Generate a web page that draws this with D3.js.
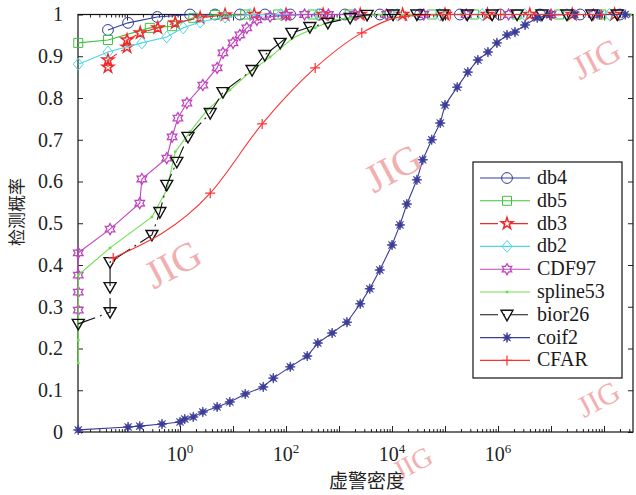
<!DOCTYPE html>
<html>
<head>
<meta charset="utf-8">
<script src="https://cdn.jsdelivr.net/npm/d3@7"></script>
<style>
  html, body { margin: 0; padding: 0; background: #fff; }
  svg { display: block; }
</style>
</head>
<body>
<svg id="chart" width="636" height="495"></svg>
<script>
// x values are log10 of the false alarm density, y is detection probability
var seriesNames = ['db4', 'db5', 'db3', 'db2', 'CDF97', 'spline53', 'bior26', 'coif2', 'CFAR'];

var db4LogX = [-1.36, -0.98, -0.43, 0.19, 0.66, 1.13, 1.60, 2.08, 2.64, 3.11, 3.77, 4.53, 5.28, 6.04, 6.79, 7.55, 8.30];
var db4Y    = [0.963, 0.980, 0.994, 1, 1, 1, 1, 1, 1, 1, 1, 1, 1, 1, 1, 1, 1];

var db5LogX = [-1.92, -1.36, -0.57, -0.15, 0.25, 0.66, 1.23, 1.85, 2.50, 3.20, 3.95, 4.75, 5.55, 6.35, 7.15, 7.95];
var db5Y    = [0.932, 0.939, 0.968, 0.972, 0.992, 0.999, 1, 1, 1, 1, 1, 1, 1, 1, 1, 1];

var db3LogX = [-1.36, -1.36, -1.00, -1.00, -0.75, -0.42, -0.09, 0.38, 0.85, 1.40, 2.00, 2.70, 3.40, 4.20, 5.00, 5.80, 6.60, 7.40, 8.20];
var db3Y    = [0.874, 0.891, 0.922, 0.939, 0.956, 0.968, 0.980, 0.992, 0.999, 1, 1, 1, 1, 1, 1, 1, 1, 1, 1];

var db2LogX = [-1.92, -1.36, -0.72, -0.25, 0.06, 0.38, 0.85, 1.32, 1.90, 2.60, 3.30, 4.10, 4.90, 5.70, 6.50, 7.30, 8.10];
var db2Y    = [0.881, 0.910, 0.932, 0.946, 0.968, 0.982, 0.994, 1, 1, 1, 1, 1, 1, 1, 1, 1, 1];

var cdf97LogX = [-1.92, -1.92, -1.92, -1.92, -1.32, -0.76, -0.72, -0.25, -0.15, -0.04, 0.13, 0.43, 0.70, 0.81, 1.00, 1.13, 1.26, 1.45, 1.70, 2.00, 2.35, 2.80, 3.30, 3.90, 4.60, 5.40, 6.20, 7.00, 7.80];
var cdf97Y    = [0.292, 0.335, 0.376, 0.429, 0.486, 0.548, 0.606, 0.656, 0.707, 0.752, 0.788, 0.831, 0.872, 0.908, 0.932, 0.951, 0.968, 0.987, 0.995, 0.998, 1, 1, 1, 1, 1, 1, 1, 1, 1];

var spline53LogX = [-1.92, -1.92, -1.92, -1.32, -0.53, -0.25, -0.09, 0.19, 0.51, 0.94, 1.32, 1.70, 2.13, 2.55, 2.89, 3.40, 3.83, 4.50, 5.30, 6.10, 6.90, 7.70, 8.50];
var spline53Y    = [0.165, 0.220, 0.376, 0.441, 0.515, 0.580, 0.671, 0.719, 0.771, 0.819, 0.862, 0.898, 0.944, 0.968, 0.987, 0.996, 1, 1, 1, 1, 1, 1, 1];

var bior26LogX = [-1.92, -1.32, -1.32, -1.32, -0.53, -0.38, -0.25, -0.06, 0.15, 0.57, 0.81, 1.36, 1.60, 1.89, 2.11, 2.45, 2.79, 3.21, 3.53, 4.02, 4.47, 4.96, 5.42, 5.89, 6.36, 6.83, 7.30, 7.77, 8.25];
var bior26Y    = [0.259, 0.287, 0.347, 0.407, 0.472, 0.527, 0.592, 0.647, 0.707, 0.764, 0.814, 0.867, 0.903, 0.932, 0.956, 0.970, 0.980, 0.992, 0.999, 1, 1, 1, 1, 1, 1, 1, 1, 1, 1];

var coif2LogX = [-1.92, -0.98, -0.76, -0.34, 0.00, 0.09, 0.25, 0.43, 0.70, 0.94, 1.23, 1.57, 1.76, 2.08, 2.40, 2.60, 2.87, 3.15, 3.40, 3.58, 3.77, 4.00, 4.15, 4.28, 4.47, 4.58, 4.75, 4.91, 5.00, 5.23, 5.43, 5.62, 5.81, 5.98, 6.17, 6.32, 6.51, 6.74, 6.98, 7.45, 7.92, 8.40];
var coif2Y    = [0.005, 0.012, 0.014, 0.019, 0.024, 0.031, 0.036, 0.048, 0.060, 0.072, 0.091, 0.108, 0.129, 0.156, 0.182, 0.213, 0.237, 0.263, 0.307, 0.343, 0.388, 0.448, 0.496, 0.546, 0.604, 0.652, 0.700, 0.740, 0.783, 0.826, 0.862, 0.891, 0.910, 0.932, 0.951, 0.958, 0.975, 0.992, 0.999, 1, 1, 1];

var cfarLogX = [-1.26, 0.57, 1.55, 2.55, 3.43, 4.25, 5.10, 6.05, 7.00, 7.95];
var cfarY    = [0.417, 0.572, 0.738, 0.872, 0.956, 0.996, 1, 1, 1, 1];

var xDomainExp = [-1.925, 8.547];
var xLabelExp = [0, 2, 4, 6];
var yTickValues = [0, 0.1, 0.2, 0.3, 0.4, 0.5, 0.6, 0.7, 0.8, 0.9, 1];
var xTitle = '虚警密度';
var yTitle = '检测概率';

(function() {
  var svg, x, y, left, right, top, bottom, series, line, plot, legend, allTicks, majorTicks, minorTicks, watermarks;

  left = 78; right = 633; top = 14.5; bottom = 432;

  svg = d3.select('#chart');
  svg.append('rect').attr('width', 636).attr('height', 495).attr('fill', '#fff');

  x = d3.scaleLog()
    .domain([Math.pow(10, xDomainExp[0]), Math.pow(10, xDomainExp[1])])
    .range([left, right]);
  y = d3.scaleLinear().domain([0, 1]).range([bottom, top]);

  function hexagram(r1, r2) {
    var pts = [], i, a, r;
    for (i = 0; i < 12; i++) {
      a = -Math.PI / 2 + i * Math.PI / 6;
      r = i % 2 === 0 ? r1 : r2;
      pts.push([r * Math.cos(a), r * Math.sin(a)]);
    }
    return 'M' + pts.join('L') + 'Z';
  }

  function star8(r1, r2) {
    var pts = [], i, a, r;
    for (i = 0; i < 16; i++) {
      a = -Math.PI / 2 + i * Math.PI / 8;
      r = i % 2 === 0 ? r1 : r2;
      pts.push([r * Math.cos(a), r * Math.sin(a)]);
    }
    return 'M' + pts.join('L') + 'Z';
  }

  var markers = {
    circle:   { d: d3.symbol(d3.symbolCircle, 92)(), fill: 'none', sw: 1 },
    square:   { d: 'M-4.5,-4.5H4.5V4.5H-4.5Z', fill: 'none', sw: 1 },
    star:     { d: d3.symbol(d3.symbolStar, 42)(), fill: 'none', sw: 1.5 },
    diamond:  { d: 'M0,-6L5,0L0,6L-5,0Z', fill: 'none', sw: 1 },
    hexagram: { d: hexagram(5.5, 3.2), fill: 'none', sw: 1.3 },
    dot:      { d: d3.symbol(d3.symbolCircle, 7)(), fill: 'color', sw: 0 },
    tri:      { d: 'M-6,-4.5L6,-4.5L0,6Z', fill: 'none', sw: 1.4 },
    asterisk: { d: star8(5, 1.9), fill: 'color', sw: 0.7 },
    plus:     { d: 'M-5,0H5M0,-5V5', fill: 'none', sw: 1.2 }
  };

  series = [
    { name: seriesNames[0], lx: db4LogX, ys: db4Y, color: '#2f3da0', marker: 'circle', dash: null },
    { name: seriesNames[1], lx: db5LogX, ys: db5Y, color: '#3cc43c', marker: 'square', dash: null },
    { name: seriesNames[2], lx: db3LogX, ys: db3Y, color: '#f02a2a', marker: 'star', dash: '18,5,2,5' },
    { name: seriesNames[3], lx: db2LogX, ys: db2Y, color: '#4fd6e6', marker: 'diamond', dash: null },
    { name: seriesNames[4], lx: cdf97LogX, ys: cdf97Y, color: '#c044c0', marker: 'hexagram', dash: null },
    { name: seriesNames[5], lx: spline53LogX, ys: spline53Y, color: '#6ee04e', marker: 'dot', dash: null },
    { name: seriesNames[6], lx: bior26LogX, ys: bior26Y, color: '#111111', marker: 'tri', dash: '18,5,2,5' },
    { name: seriesNames[7], lx: coif2LogX, ys: coif2Y, color: '#3b3b98', marker: 'asterisk', dash: null },
    { name: seriesNames[8], lx: cfarLogX, ys: cfarY, color: '#ff3030', marker: 'plus', dash: null, smooth: true }
  ];

  // axes (ticks drawn inward, box on)
  allTicks = x.ticks(20);
  majorTicks = allTicks.filter(function(d) { return Math.abs(Math.log10(d) - Math.round(Math.log10(d))) < 1e-9; });
  minorTicks = allTicks.filter(function(d) { return majorTicks.indexOf(d) < 0; });

  function styleAxis(g) {
    g.select('.domain').remove();
    g.selectAll('.tick line').attr('stroke', '#222').attr('stroke-width', 1);
    g.selectAll('.tick text')
      .attr('fill', '#222')
      .style('font-family', '"Liberation Serif", "Times New Roman", serif')
      .style('font-size', '20px');
  }

  svg.append('g').attr('transform', 'translate(0,' + bottom + ')')
    .call(d3.axisBottom(x).tickValues(majorTicks).tickSizeInner(-6).tickSizeOuter(0).tickFormat(''))
    .call(styleAxis);
  svg.append('g').attr('transform', 'translate(0,' + bottom + ')')
    .call(d3.axisBottom(x).tickValues(minorTicks).tickSizeInner(-3).tickSizeOuter(0).tickFormat(''))
    .call(styleAxis);
  svg.append('g').attr('transform', 'translate(0,' + top + ')')
    .call(d3.axisTop(x).tickValues(majorTicks).tickSizeInner(-6).tickSizeOuter(0).tickFormat(''))
    .call(styleAxis);
  svg.append('g').attr('transform', 'translate(0,' + top + ')')
    .call(d3.axisTop(x).tickValues(minorTicks).tickSizeInner(-3).tickSizeOuter(0).tickFormat(''))
    .call(styleAxis);
  svg.append('g').attr('transform', 'translate(' + left + ',0)')
    .call(d3.axisLeft(y).tickValues(yTickValues).tickSizeInner(-5).tickSizeOuter(0).tickPadding(15).tickFormat(d3.format('~g')))
    .call(styleAxis);
  svg.append('g').attr('transform', 'translate(' + right + ',0)')
    .call(d3.axisRight(y).tickValues(yTickValues).tickSizeInner(-5).tickSizeOuter(0).tickFormat(''))
    .call(styleAxis);

  svg.append('rect')
    .attr('x', left).attr('y', top)
    .attr('width', right - left).attr('height', bottom - top)
    .attr('fill', 'none').attr('stroke', '#111').attr('stroke-width', 1.2);

  // x tick labels as 10^k
  var xl = svg.append('g')
    .style('font-family', '"Liberation Serif", "Times New Roman", serif')
    .attr('fill', '#222');
  xLabelExp.forEach(function(k) {
    var t = xl.append('text')
      .attr('x', x(Math.pow(10, k)))
      .attr('y', 461)
      .attr('text-anchor', 'middle')
      .style('font-size', '20px');
    t.append('tspan').text('10');
    t.append('tspan').attr('dy', -8).style('font-size', '13px').text(k);
  });

  // series
  plot = svg.append('g');
  series.forEach(function(s) {
    var pts = d3.zip(s.lx, s.ys), mk = markers[s.marker], g;
    line = d3.line()
      .x(function(d) { return x(Math.pow(10, d[0])); })
      .y(function(d) { return y(d[1]); })
      .curve(s.smooth ? d3.curveMonotoneX : d3.curveLinear);
    g = plot.append('g');
    g.append('path')
      .attr('d', line(pts))
      .attr('fill', 'none')
      .attr('stroke', s.color)
      .attr('stroke-width', 1.1)
      .attr('stroke-dasharray', s.dash);
    g.selectAll('path.mk').data(pts).enter().append('path')
      .attr('class', 'mk')
      .attr('transform', function(d) { return 'translate(' + x(Math.pow(10, d[0])) + ',' + y(d[1]) + ')'; })
      .attr('d', mk.d)
      .attr('fill', mk.fill === 'color' ? s.color : 'none')
      .attr('stroke', s.color)
      .attr('stroke-width', mk.sw);
  });

  // legend
  legend = svg.append('g');
  legend.append('rect')
    .attr('x', 473).attr('y', 162).attr('width', 149).attr('height', 216)
    .attr('fill', '#fff').attr('stroke', '#111').attr('stroke-width', 1.2);
  series.forEach(function(s, i) {
    var cy = 178 + i * 22.8, mk = markers[s.marker];
    legend.append('line')
      .attr('x1', 480).attr('x2', 530).attr('y1', cy).attr('y2', cy)
      .attr('stroke', s.color).attr('stroke-width', 1.1)
      .attr('stroke-dasharray', s.dash);
    legend.append('path')
      .attr('transform', 'translate(507,' + cy + ')')
      .attr('d', mk.d)
      .attr('fill', mk.fill === 'color' ? s.color : 'none')
      .attr('stroke', s.color)
      .attr('stroke-width', mk.sw);
    legend.append('text')
      .attr('x', 537).attr('y', cy + 6)
      .attr('fill', '#1a1a1a')
      .style('font-family', '"Liberation Serif", "Times New Roman", serif')
      .style('font-size', '20px')
      .text(s.name);
  });

  // axis titles
  svg.append('text')
    .attr('x', 367).attr('y', 488)
    .attr('text-anchor', 'middle')
    .attr('fill', '#222')
    .style('font-family', '"Noto Sans CJK SC", sans-serif')
    .style('font-size', '19px')
    .text(xTitle);
  svg.append('text')
    .attr('transform', 'translate(23,212) rotate(-90)')
    .attr('text-anchor', 'middle')
    .attr('fill', '#222')
    .style('font-family', '"Noto Sans CJK SC", sans-serif')
    .style('font-size', '17px')
    .text(yTitle);

  // scan watermarks, kept inside the frame
  watermarks = [[175, 268, 40], [395, 172, 40], [598, 62, 34], [600, 402, 30], [414, 466, 28]];
  svg.append('g').selectAll('text').data(watermarks).enter().append('text')
    .attr('transform', function(d) { return 'translate(' + d[0] + ',' + d[1] + ') rotate(-28)'; })
    .attr('text-anchor', 'middle')
    .attr('dominant-baseline', 'middle')
    .attr('fill', '#f2a2a2')
    .attr('opacity', 0.85)
    .style('font-family', '"Liberation Serif", "Times New Roman", serif')
    .style('font-size', function(d) { return d[2] + 'px'; })
    .text('JIG');
}).call(this);
</script>
</body>
</html>
